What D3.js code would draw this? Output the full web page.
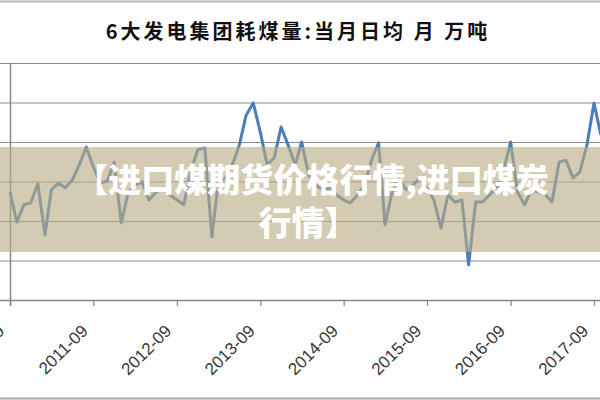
<!DOCTYPE html>
<html>
<head>
<meta charset="utf-8">
<script src="https://cdn.jsdelivr.net/npm/d3@7/dist/d3.min.js"></script>
<style>
  body { margin: 0; background: #fff; }
  svg { display: block; }
</style>
</head>
<body>
<div id="chart"></div>
<script>
// 6大发电集团耗煤量, monthly, first month 2010-09
const startMonth = "2010-09"
const coalValues = [
  57.3, 49.7, 54.1, 54.6, 59.4, 46.5, 57.9, 59.6, 58.4, 60.4, 64.2, 68.7,
  63.7, 59.6, 60.1, 64.9, 49.5, 57.3, 59.1, 59.9, 55.3, 57.3, 58.4, 56.6,
  55.3, 54.1, 62.9, 68.0, 68.5, 46.0, 59.9, 60.9, 64.2, 69.2, 76.8, 79.9,
  72.5, 64.2, 66.0, 73.8, 69.2, 64.2, 70.0, 61.6, 59.1, 57.9, 58.4, 56.6,
  55.3, 54.6, 56.6, 59.1, 65.4, 69.8, 49.0, 57.3, 60.9, 57.9, 59.1, 60.9,
  58.4, 55.3, 48.2, 56.6, 54.8, 55.3, 38.9, 54.8, 54.8, 56.6, 58.4, 62.9,
  70.0, 57.3, 54.1, 57.9, 57.3, 56.6, 54.8, 64.9, 65.4, 60.9, 62.4, 69.2,
  79.9, 71.8
]
const xTickLabels = ["2010-09", "2011-09", "2012-09", "2013-09", "2014-09", "2015-09", "2016-09", "2017-09"]
const yTicks = [40, 50, 60, 70, 80, 90]
const titleText = "6大发电集团耗煤量:当月日均 月 万吨"
const bannerLines = ["【进口煤期货价格行情,进口煤炭", "行情】"]

const width = 600, height = 400
const parseMonth = d3.timeParse("%Y-%m")
const fmtMonth = d3.timeFormat("%Y-%m")

const first = parseMonth(startMonth)
const data = coalValues.map((v, i) => ({ date: d3.timeMonth.offset(first, i), value: v }))
const tickDates = xTickLabels.map(parseMonth)

const svg = d3.select("#chart").append("svg")
    .attr("width", width)
    .attr("height", height)

const x = d3.scaleTime()
    .domain([tickDates[0], tickDates[tickDates.length - 1]])
    .range([10, 594])

const y = d3.scaleLinear()
    .domain([30, 90])
    .range([300, 63])

//frame lines of the picture
svg.append("line").attr("x1", 0).attr("x2", width).attr("y1", 1.5).attr("y2", 1.5)
    .attr("stroke", "#b4b4b4").attr("stroke-width", 2)
svg.append("line").attr("x1", 0).attr("x2", width).attr("y1", 398.5).attr("y2", 398.5)
    .attr("stroke", "#a8a8a8").attr("stroke-width", 2)

//title
svg.append("text")
    .attr("x", 298).attr("y", 39)
    .attr("text-anchor", "middle")
    .style("font-family", "'Noto Sans CJK SC', sans-serif")
    .style("font-weight", "bold")
    .style("font-size", "20px")
    .style("letter-spacing", "3px")
    .attr("fill", "#111")
    .text(titleText)

//horizontal gridlines
svg.append("g").selectAll("line")
    .data(yTicks)
    .join("line")
    .attr("x1", 0).attr("x2", width)
    .attr("y1", d => y(d) + 0.5).attr("y2", d => y(d) + 0.5)
    .attr("stroke", "#8c8c8c")
    .attr("stroke-width", 1.2)

//x axis
const xAxis = svg.append("g")
    .attr("transform", `translate(0,${y(30)})`)
    .call(d3.axisBottom(x).tickValues(tickDates).tickFormat(fmtMonth).tickSize(6).tickSizeOuter(0))

xAxis.select(".domain").remove()
xAxis.append("line").attr("x1", 0).attr("x2", width).attr("y1", 0.5).attr("y2", 0.5)
    .attr("stroke", "#868686").attr("stroke-width", 1.5)
xAxis.selectAll(".tick line").attr("stroke", "#868686").attr("stroke-width", 1.2)
xAxis.selectAll(".tick text")
    .attr("x", 0).attr("y", 0).attr("dy", 0)
    .attr("transform", "translate(-5,32) rotate(-45)")
    .style("text-anchor", "end")
    .style("font-family", "'Liberation Sans', Arial, sans-serif")
    .style("font-size", "17px")
    .attr("fill", "#383838")

//y axis line
svg.append("line")
    .attr("x1", x(tickDates[0]) + 0.5).attr("x2", x(tickDates[0]) + 0.5)
    .attr("y1", y(90)).attr("y2", y(30) + 6)
    .attr("stroke", "#868686").attr("stroke-width", 1.5)

//data line
const line = d3.line()
    .x(d => x(d.date))
    .y(d => y(d.value))

svg.append("path")
    .datum(data)
    .attr("fill", "none")
    .attr("stroke", "#4a7dbb")
    .attr("stroke-width", 3)
    .attr("stroke-linejoin", "round")
    .attr("d", line)

//overlay banner
svg.append("rect")
    .attr("x", 0).attr("y", 147)
    .attr("width", width).attr("height", 105)
    .attr("fill", "rgb(185,172,130)")
    .attr("fill-opacity", 0.62)

svg.append("g").selectAll("text")
    .data(bannerLines)
    .join("text")
    .attr("x", (d, i) => i == 0 ? 312 : 308)
    .attr("y", (d, i) => 192 + i * 43)
    .attr("text-anchor", "middle")
    .style("font-family", "'Noto Sans CJK SC', sans-serif")
    .style("font-weight", "900")
    .style("font-size", "33px")
    .attr("fill", "#fff")
    .text(d => d)
</script>
</body>
</html>
